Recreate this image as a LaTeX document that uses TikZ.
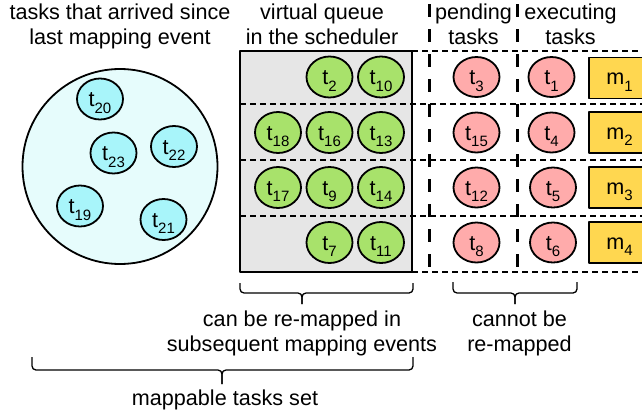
\documentclass[tikz,border=0pt]{standalone}
\usepackage{fontspec}
\setmainfont{Liberation Sans}
\usetikzlibrary{shapes.geometric}
\definecolor{poolcolor}{HTML}{E6FCFC}
\definecolor{arrivedcolor}{HTML}{A8F5FA}
\definecolor{queuecolor}{HTML}{E6E6E6}
\definecolor{queuedcolor}{HTML}{A8E26B}
\definecolor{lockedcolor}{HTML}{FFABAB}
\definecolor{machinecolor}{HTML}{FFD750}
\newcommand{\tk}[2]{#1\raisebox{-6.5pt}{\fontsize{15}{15}\selectfont #2}}

\begin{document}
\begin{tikzpicture}[
    x=1pt, y=-1pt,
    line width=1.8pt,
    line join=round,
    font=\fontsize{21.6}{25}\selectfont,
    task/.style={ellipse, draw=black, minimum width=46pt, minimum height=41pt,
        inner sep=0pt, text height=21pt, text depth=6pt},
    arrived/.style={task, fill=arrivedcolor},
    queued/.style={task, fill=queuedcolor},
    locked/.style={task, fill=lockedcolor, minimum height=40pt},
    machine/.style={rectangle, draw=black, fill=machinecolor, minimum width=61pt,
        minimum height=41pt, inner sep=0pt, text height=20pt, text depth=6.5pt},
    headtext/.style={align=center, inner sep=0pt, anchor=north},
    rowline/.style={line width=1.3pt, dash pattern=on 6pt off 4pt},
    colline/.style={line width=3pt, dash pattern=on 13pt off 12pt},
    bracket/.style={line width=1.3pt, rounded corners=4pt}
]

    % Page
    \fill[white] (0,0) rectangle (642,415);
    \clip (0,0) rectangle (642,415);

    % Headings
    \node[headtext] (arrivedhead) at (120,2.5) {tasks that arrived since\\last mapping event};
    \node[headtext] (queuehead) at (322,2.5) {virtual queue\\in the scheduler};
    \node[headtext] (pendinghead) at (473.5,2.5) {pending\\tasks};
    \node[headtext] (runninghead) at (570.5,2.5) {executing\\tasks};

    % Newly arrived tasks
    \node[circle, draw=black, fill=poolcolor, minimum size=195pt, inner sep=0pt] (pool) at (120,166.5) {};
    \node[arrived] (t20) at (100,99) {\tk{t}{20}};
    \node[arrived] (t23) at (113.5,153) {\tk{t}{23}};
    \node[arrived] (t22) at (174,146.5) {\tk{t}{22}};
    \node[arrived] (t19) at (80,206) {\tk{t}{19}};
    \node[arrived] (t21) at (163.5,219.5) {\tk{t}{21}};

    % Virtual queue
    \fill[queuecolor] (240,51) rectangle (412,272);
    \draw[rowline] (240,104) -- (642,104);
    \draw[rowline] (240,160) -- (642,160);
    \draw[rowline] (240,216) -- (642,216);
    \draw[rowline] (412,51) -- (642,51);
    \draw[rowline] (412,272) -- (642,272);
    \draw[black] (240,51) rectangle (412,272);

    \node[queued] (t2) at (329.5,77) {\tk{t}{2}};
    \node[queued] (t10) at (381,77) {\tk{t}{10}};
    \node[queued] (t18) at (278,132.5) {\tk{t}{18}};
    \node[queued] (t16) at (329.5,132.5) {\tk{t}{16}};
    \node[queued] (t13) at (381,132.5) {\tk{t}{13}};
    \node[queued] (t17) at (278,187.5) {\tk{t}{17}};
    \node[queued] (t9) at (329.5,187.5) {\tk{t}{9}};
    \node[queued] (t14) at (381,187.5) {\tk{t}{14}};
    \node[queued] (t7) at (329.5,242.5) {\tk{t}{7}};
    \node[queued] (t11) at (381,242.5) {\tk{t}{11}};

    % Pending / executing split
    \draw[colline] (429.5,4) -- (429.5,272);
    \draw[colline] (517.5,4) -- (517.5,272);

    \node[locked] (t3) at (476.5,77) {\tk{t}{3}};
    \node[locked] (t15) at (476.5,132.5) {\tk{t}{15}};
    \node[locked] (t12) at (476.5,187.5) {\tk{t}{12}};
    \node[locked] (t8) at (476.5,242.5) {\tk{t}{8}};

    \node[locked] (t1) at (551.5,77) {\tk{t}{1}};
    \node[locked] (t4) at (551.5,132.5) {\tk{t}{4}};
    \node[locked] (t5) at (553,187.5) {\tk{t}{5}};
    \node[locked] (t6) at (553,242.5) {\tk{t}{6}};

    % Machines
    \node[machine] (m1) at (619.5,78) {\tk{m}{1}};
    \node[machine] (m2) at (619.5,132.5) {\tk{m}{2}};
    \node[machine] (m3) at (619.5,187.5) {\tk{m}{3}};
    \node[machine] (m4) at (619.5,242.5) {\tk{m}{4}};

    % Braces underneath
    \draw[bracket] (240,283) -- (240,293) -- (302,293) -- (302,304);
    \draw[bracket] (413,283) -- (413,293) -- (302,293) -- (302,304);
    \node[headtext] (remaptext) at (302,309.5) {can be re-mapped in\\subsequent mapping events};

    \draw[bracket] (453,282) -- (453,293) -- (515,293) -- (515,304);
    \draw[bracket] (577,282) -- (577,293) -- (515,293) -- (515,304);
    \node[headtext] (fixedtext) at (519.5,309.5) {cannot be\\re-mapped};

    \draw[bracket] (32,357) -- (32,370) -- (222,370) -- (222,384);
    \draw[bracket] (413,357) -- (413,370) -- (222,370) -- (222,384);
    \node[headtext] (settext) at (225,388.5) {mappable tasks set};

\end{tikzpicture}
\end{document}
